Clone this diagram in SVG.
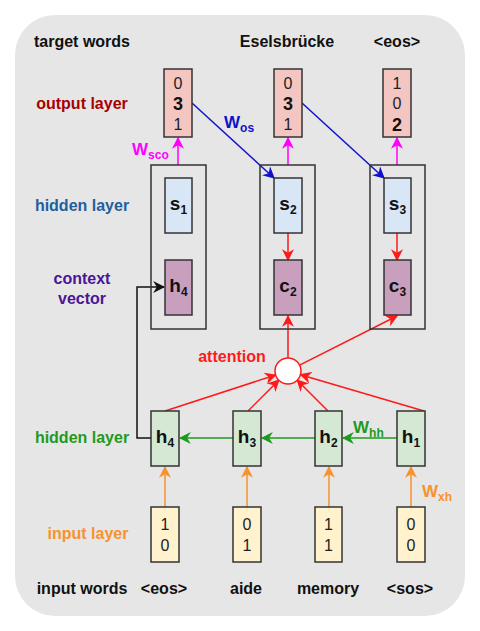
<svg xmlns="http://www.w3.org/2000/svg" width="480" height="631" viewBox="0 0 480 631">
<defs>
<style>
text{font-family:"Liberation Sans",Arial,sans-serif}
.lbl{font-size:16px;font-weight:bold;text-anchor:middle}
.num{font-size:16px;text-anchor:middle;fill:#222}
.nb{font-size:18px;font-weight:bold;text-anchor:middle;fill:#111}
.var{font-size:19px;font-weight:bold;text-anchor:middle;fill:#111}
.sub{font-size:12px}
.box{stroke:#333;stroke-width:1.5}
.out{fill:#f4c6c2}
.sbox{fill:#d9e6f6}
.cbox{fill:#c99fbe}
.hbox{fill:#d5e8d4}
.ibox{fill:#fff2cc}
.outer{fill:none;stroke:#333;stroke-width:1.5}
.ln{fill:none;stroke-width:1.5}
</style>
<marker id="aR" viewBox="0 0 10 10" refX="9" refY="5" markerWidth="12" markerHeight="12" markerUnits="userSpaceOnUse" orient="auto"><path d="M0,0 L10,5 L0,10 L3,5 z" fill="#ff1a1a"/></marker>
<marker id="aG" viewBox="0 0 10 10" refX="9" refY="5" markerWidth="12" markerHeight="12" markerUnits="userSpaceOnUse" orient="auto"><path d="M0,0 L10,5 L0,10 L3,5 z" fill="#1a9c1a"/></marker>
<marker id="aB" viewBox="0 0 10 10" refX="9" refY="5" markerWidth="12" markerHeight="12" markerUnits="userSpaceOnUse" orient="auto"><path d="M0,0 L10,5 L0,10 L3,5 z" fill="#1111cc"/></marker>
<marker id="aM" viewBox="0 0 10 10" refX="9" refY="5" markerWidth="12" markerHeight="12" markerUnits="userSpaceOnUse" orient="auto"><path d="M0,0 L10,5 L0,10 L3,5 z" fill="#ff00ff"/></marker>
<marker id="aO" viewBox="0 0 10 10" refX="9" refY="5" markerWidth="12" markerHeight="12" markerUnits="userSpaceOnUse" orient="auto"><path d="M0,0 L10,5 L0,10 L3,5 z" fill="#f7922e"/></marker>
<marker id="aK" viewBox="0 0 10 10" refX="9" refY="5" markerWidth="12" markerHeight="12" markerUnits="userSpaceOnUse" orient="auto"><path d="M0,0 L10,5 L0,10 L3,5 z" fill="#111"/></marker>
</defs>
<rect x="15" y="15" width="450" height="601" rx="40" fill="#e6e6e6"/>

<g id="labels">
<text class="lbl" x="82" y="47" fill="#111">target words</text>
<text class="lbl" x="287" y="47" fill="#111">Eselsbrücke</text>
<text class="lbl" x="397" y="47" fill="#111">&lt;eos&gt;</text>
<text class="lbl" x="82" y="109" fill="#a80000">output layer</text>
<text class="lbl" x="82" y="211" fill="#1f5f9f">hidden layer</text>
<text class="lbl" x="82" y="284" fill="#4b1596">context</text>
<text class="lbl" x="82" y="304" fill="#4b1596">vector</text>
<text class="lbl" x="82" y="443" fill="#1f9a1f">hidden layer</text>
<text class="lbl" x="88" y="539" fill="#f7922e">input layer</text>
<text class="lbl" x="82" y="594" fill="#111">input words</text>
<text class="lbl" x="164" y="594" fill="#111">&lt;eos&gt;</text>
<text class="lbl" x="246" y="594" fill="#111">aide</text>
<text class="lbl" x="328" y="594" fill="#111">memory</text>
<text class="lbl" x="410" y="594" fill="#111">&lt;sos&gt;</text>
<text class="lbl" x="232" y="362" fill="#ff1a1a">attention</text>
<text x="132" y="155" font-size="17" font-weight="bold" fill="#ff00ff">W<tspan class="sub" dy="4">sco</tspan></text>
<text x="224" y="128" font-size="17" font-weight="bold" fill="#1111cc">W<tspan class="sub" dy="4">os</tspan></text>
<text x="353" y="433" font-size="17" font-weight="bold" fill="#1f9a1f">W<tspan class="sub" dy="4">hh</tspan></text>
<text x="422" y="497" font-size="17" font-weight="bold" fill="#f7922e">W<tspan class="sub" dy="4">xh</tspan></text>
</g>

<g id="connectors">
<line class="ln" x1="178" y1="165" x2="178" y2="138" stroke="#ff00ff" marker-end="url(#aM)"/>
<line class="ln" x1="288" y1="165" x2="288" y2="138" stroke="#ff00ff" marker-end="url(#aM)"/>
<line class="ln" x1="397" y1="165" x2="397" y2="138" stroke="#ff00ff" marker-end="url(#aM)"/>
<line class="ln" x1="192" y1="103" x2="274" y2="178" stroke="#1111cc" marker-end="url(#aB)"/>
<line class="ln" x1="302" y1="103" x2="384" y2="178" stroke="#1111cc" marker-end="url(#aB)"/>
<line class="ln" x1="288" y1="233" x2="288" y2="260" stroke="#ff1a1a" marker-end="url(#aR)"/>
<line class="ln" x1="397" y1="233" x2="397" y2="260" stroke="#ff1a1a" marker-end="url(#aR)"/>
<line class="ln" x1="288" y1="358" x2="288" y2="316" stroke="#ff1a1a" marker-end="url(#aR)"/>
<line class="ln" x1="299.6" y1="365.2" x2="397" y2="316" stroke="#ff1a1a" marker-end="url(#aR)"/>
<line class="ln" x1="165" y1="411" x2="275.6" y2="375" stroke="#ff1a1a" marker-end="url(#aR)"/>
<line class="ln" x1="248" y1="411" x2="278.8" y2="380.2" stroke="#ff1a1a" marker-end="url(#aR)"/>
<line class="ln" x1="328" y1="411" x2="297.2" y2="380.2" stroke="#ff1a1a" marker-end="url(#aR)"/>
<line class="ln" x1="424" y1="411" x2="300.5" y2="374.7" stroke="#ff1a1a" marker-end="url(#aR)"/>
<line class="ln" x1="397" y1="438" x2="343" y2="438" stroke="#1f9a1f" marker-end="url(#aG)"/>
<line class="ln" x1="315" y1="438" x2="262" y2="438" stroke="#1f9a1f" marker-end="url(#aG)"/>
<line class="ln" x1="233" y1="438" x2="180" y2="438" stroke="#1f9a1f" marker-end="url(#aG)"/>
<polyline class="ln" points="151,438 137,438 137,287 164,287" stroke="#111" marker-end="url(#aK)"/>
<line class="ln" x1="165" y1="507" x2="165" y2="467" stroke="#f7922e" marker-end="url(#aO)"/>
<line class="ln" x1="247" y1="507" x2="247" y2="467" stroke="#f7922e" marker-end="url(#aO)"/>
<line class="ln" x1="329" y1="507" x2="329" y2="467" stroke="#f7922e" marker-end="url(#aO)"/>
<line class="ln" x1="411" y1="507" x2="411" y2="467" stroke="#f7922e" marker-end="url(#aO)"/>
</g>

<g id="out1"><rect class="box out" x="164" y="69" width="28" height="68"/><text class="num" x="178" y="89">0</text><text class="nb" x="178" y="110">3</text><text class="num" x="178" y="130">1</text></g>
<g id="out2"><rect class="box out" x="274" y="69" width="28" height="68"/><text class="num" x="288" y="89">0</text><text class="nb" x="288" y="110">3</text><text class="num" x="288" y="130">1</text></g>
<g id="out3"><rect class="box out" x="383" y="69" width="28" height="68"/><text class="num" x="397" y="89">1</text><text class="num" x="397" y="109">0</text><text class="nb" x="397" y="131">2</text></g>

<g id="dec1"><rect class="outer" x="151" y="165" width="55" height="164"/></g>
<g id="dec2"><rect class="outer" x="260" y="165" width="55" height="164"/></g>
<g id="dec3"><rect class="outer" x="370" y="165" width="55" height="164"/></g>

<g id="s1"><rect class="box sbox" x="165" y="178" width="27" height="55"/><text class="var" x="178.5" y="210">s<tspan class="sub" dy="4">1</tspan></text></g>
<g id="s2"><rect class="box sbox" x="274" y="178" width="28" height="55"/><text class="var" x="288" y="210">s<tspan class="sub" dy="4">2</tspan></text></g>
<g id="s3"><rect class="box sbox" x="384" y="178" width="27" height="55"/><text class="var" x="397.5" y="210">s<tspan class="sub" dy="4">3</tspan></text></g>

<g id="ctx1"><rect class="box cbox" x="165" y="260" width="27" height="55"/><text class="var" x="178.5" y="292">h<tspan class="sub" dy="4">4</tspan></text></g>
<g id="c2"><rect class="box cbox" x="274" y="260" width="28" height="55"/><text class="var" x="288" y="292">c<tspan class="sub" dy="4">2</tspan></text></g>
<g id="c3"><rect class="box cbox" x="384" y="260" width="27" height="55"/><text class="var" x="397.5" y="292">c<tspan class="sub" dy="4">3</tspan></text></g>

<g id="attention"><circle cx="288" cy="371" r="13" fill="#fff" stroke="#ff1a1a" stroke-width="1.5"/></g>

<g id="h4"><rect class="box hbox" x="151" y="411" width="28" height="55"/><text class="var" x="165" y="443">h<tspan class="sub" dy="4">4</tspan></text></g>
<g id="h3"><rect class="box hbox" x="233" y="411" width="28" height="55"/><text class="var" x="247" y="443">h<tspan class="sub" dy="4">3</tspan></text></g>
<g id="h2"><rect class="box hbox" x="315" y="411" width="27" height="55"/><text class="var" x="328.5" y="443">h<tspan class="sub" dy="4">2</tspan></text></g>
<g id="h1"><rect class="box hbox" x="397" y="411" width="28" height="55"/><text class="var" x="411" y="443">h<tspan class="sub" dy="4">1</tspan></text></g>

<g id="in4"><rect class="box ibox" x="151" y="507" width="28" height="55"/><text class="num" x="165" y="530">1</text><text class="num" x="165" y="551">0</text></g>
<g id="in3"><rect class="box ibox" x="233" y="507" width="28" height="55"/><text class="num" x="247" y="530">0</text><text class="num" x="247" y="551">1</text></g>
<g id="in2"><rect class="box ibox" x="315" y="507" width="27" height="55"/><text class="num" x="328.5" y="530">1</text><text class="num" x="328.5" y="551">1</text></g>
<g id="in1"><rect class="box ibox" x="397" y="507" width="28" height="55"/><text class="num" x="411" y="530">0</text><text class="num" x="411" y="551">0</text></g>
</svg>
